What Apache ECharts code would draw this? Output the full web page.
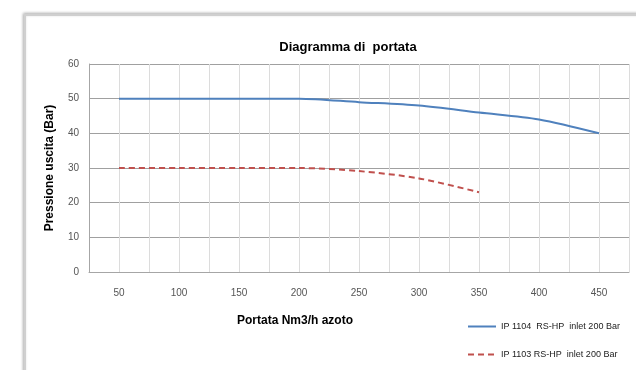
<!DOCTYPE html>
<html>
<head>
<meta charset="utf-8">
<script src="https://cdn.jsdelivr.net/npm/echarts@6/dist/echarts.min.js"></script>
<style>html,body{margin:0;padding:0;background:#fff}#c{width:636px;height:370px}</style>
</head>
<body>
<div id="c"></div>
<script>
const flowRates = [50, 100, 150, 200, 250, 300, 350, 400, 450];
const seriesBlue = [50, 50, 50, 50, 49, 48, 46, 44, 40];
const flowRatesRed = [50, 100, 150, 200, 250, 300, 350];
const seriesRed = [30, 30, 30, 30, 29.1, 27, 23];
const nameBlue = 'IP 1104  RS-HP  inlet 200 Bar';
const nameRed = 'IP 1103 RS-HP  inlet 200 Bar';
const titleText = 'Diagramma di  portata';
const xTitle = 'Portata Nm3/h azoto';
const yTitle = 'Pressione uscita (Bar)';

const font = "'Liberation Sans Narrow', 'Liberation Sans', sans-serif";
const chart = echarts.init(document.getElementById('c'), null, {renderer: 'canvas'});
chart.setOption({
  animation: false,
  backgroundColor: '#fff',
  graphic: [
    {type: 'rect', shape: {x: 25, y: 15, width: 640, height: 380},
     style: {fill: '#fff', stroke: '#cfcfcf', lineWidth: 2, shadowBlur: 3, shadowColor: 'rgba(0,0,0,0.25)', shadowOffsetX: -1, shadowOffsetY: -1}, z: -10},
    {type: 'text', left: 237, top: 315, style: {text: xTitle, font: "bold 12px " + font, fill: '#000'}}
  ],
  title: {text: titleText, left: 343, top: 36, textAlign: 'center',
    textStyle: {fontFamily: font, fontWeight: 'bold', fontSize: 13, color: '#000'}},
  grid: {left: 89, right: 7, top: 64, bottom: 98},
  legend: {orient: 'vertical', left: 462, top: 317, itemWidth: 28, itemHeight: 10, itemGap: 19,
    itemStyle: {opacity: 0},
    textStyle: {fontFamily: font, fontSize: 9, color: '#222'},
    data: [nameBlue, nameRed]},
  xAxis: {type: 'value', min: 25, max: 475, interval: 25,
    axisLine: {show: true, lineStyle: {color: '#a6a6a6'}},
    axisTick: {show: false},
    axisLabel: {margin: 16, fontFamily: font, fontSize: 10, color: '#555',
      formatter: v => (v % 50 === 0 && v >= 50 && v <= 450) ? String(v) : ''},
    splitLine: {show: true, lineStyle: {color: '#dcdcdc', width: 1}}},
  yAxis: {type: 'value', min: 0, max: 60, interval: 10,
    name: yTitle, nameLocation: 'middle', nameGap: 33,
    nameTextStyle: {fontFamily: font, fontWeight: 'bold', fontSize: 12, color: '#000'},
    axisLine: {show: true, lineStyle: {color: '#a6a6a6'}},
    axisTick: {show: false},
    axisLabel: {margin: 10, fontFamily: font, fontSize: 10, color: '#555'},
    splitLine: {show: true, lineStyle: {color: '#a0a0a0', width: 1}}},
  series: [
    {name: nameBlue, type: 'line', smooth: 0.3, symbol: 'none',
     data: flowRates.map((x, i) => [x, seriesBlue[i]]),
     lineStyle: {color: '#4f81bd', width: 2}, itemStyle: {color: '#4f81bd'}},
    {name: nameRed, type: 'line', smooth: 0.3, symbol: 'none',
     data: flowRatesRed.map((x, i) => [x, seriesRed[i]]),
     lineStyle: {color: '#c0504d', width: 2, type: [6, 4]}, itemStyle: {color: '#c0504d'}}
  ]
});
</script>
</body>
</html>
